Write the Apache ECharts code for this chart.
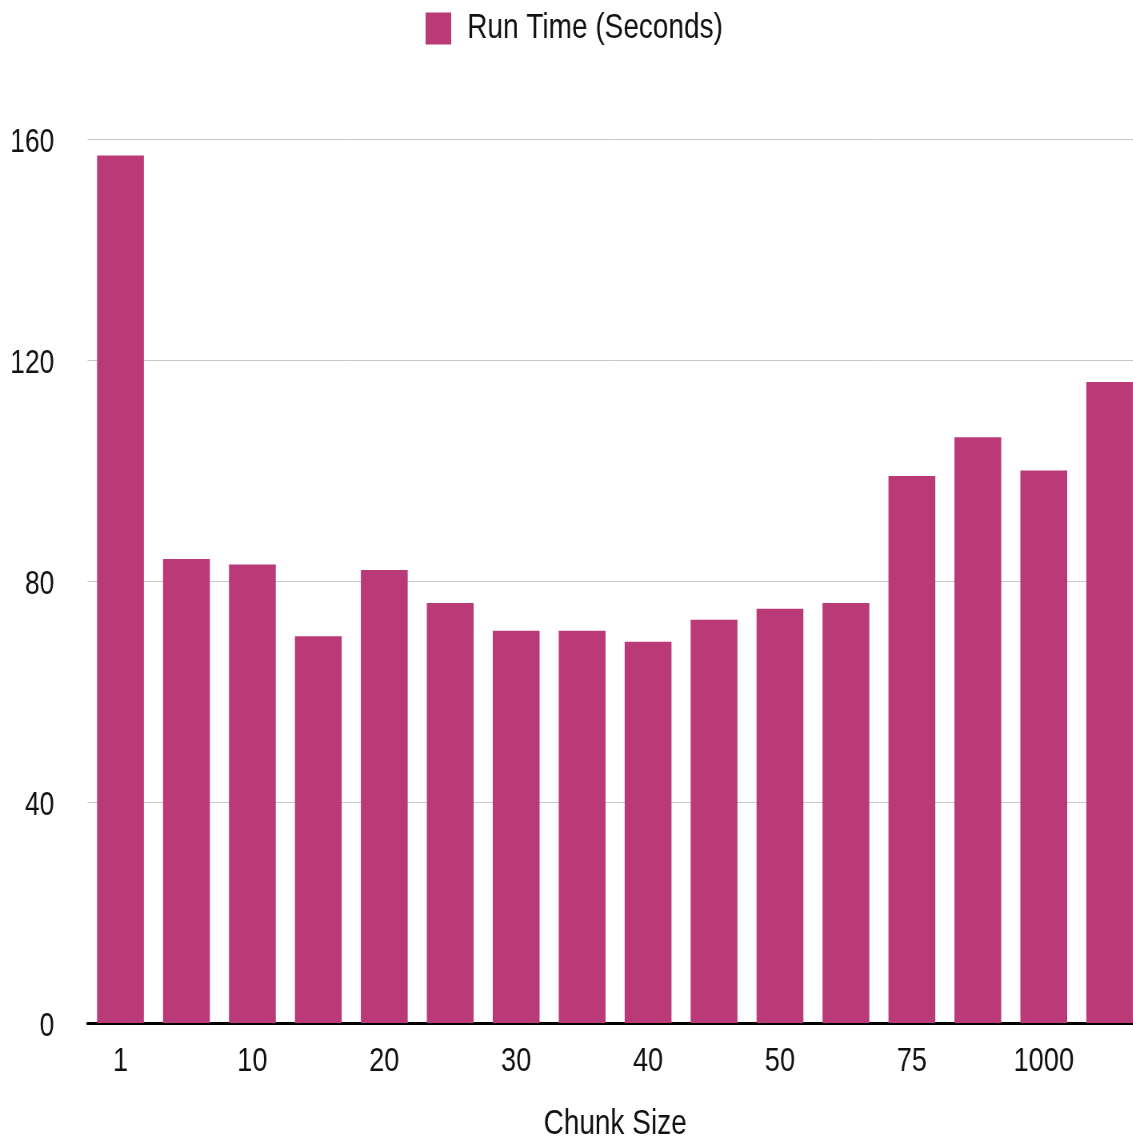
<!DOCTYPE html>
<html>
<head>
<meta charset="utf-8">
<script src="https://cdn.jsdelivr.net/npm/echarts@6/dist/echarts.min.js"></script>
<style>
html,body{margin:0;padding:0;background:#fff;overflow:hidden}
#wrap{width:1133px;height:1140px;overflow:hidden;position:relative}
#c{width:1440px;height:1140px;transform:scaleX(0.8);transform-origin:0 0;position:absolute;left:0;top:0}
</style>
</head>
<body>
<div id="wrap"><div id="c"></div></div>
<script>
var categories = ['1','5','10','15','20','25','30','35','40','45','50','60','75','100','1000','2000'];
var runTime = [157, 84, 83, 70, 82, 76, 71, 71, 69, 73, 75, 76, 99, 106, 100, 116];
var yTicks = [0, 40, 80, 120, 160];
var FONT = "'Liberation Sans', Arial, Helvetica, sans-serif";
var chart = echarts.init(document.getElementById('c'));
chart.setOption({
  animation: false,
  textStyle: {fontFamily: FONT},
  legend: {
    top: 6, left: 527,
    itemWidth: 32, itemHeight: 32, itemGap: 20,
    icon: 'rect',
    textStyle: {fontSize: 35, color: '#111', fontFamily: FONT, padding: [0, 0, 0, 15]},
    data: ['Run Time (Seconds)']
  },
  grid: {left: 109.4, top: 139, right: 11.6, bottom: 117, containLabel: false, outerBoundsMode: 'none'},
  xAxis: {
    type: 'category', data: categories,
    name: 'Chunk Size', nameLocation: 'middle', nameGap: 84,
    nameTextStyle: {fontSize: 35, color: '#111', fontFamily: FONT},
    axisLine: {lineStyle: {color: '#000', width: 3}},
    axisTick: {show: false},
    axisLabel: {interval: 1, fontSize: 34, color: '#111', margin: 22, fontFamily: FONT}
  },
  yAxis: {
    type: 'value', min: yTicks[0], max: yTicks[yTicks.length-1], interval: 40,
    axisLine: {show: false}, axisTick: {show: false},
    axisLabel: {fontSize: 33, color: '#111', margin: 41.5, fontFamily: FONT,
      formatter: '{v|{value}}',
      rich: {v: {fontSize: 33, color: '#111', fontFamily: FONT, padding: [7, 0, 0, 0]}}},
    splitLine: {lineStyle: {color: '#c8c8c8', width: 1}}
  },
  series: [{
    name: 'Run Time (Seconds)', type: 'bar', data: runTime,
    barCategoryGap: '29%',
    itemStyle: {color: '#BA3A78'}
  }]
});
</script>
</body>
</html>
